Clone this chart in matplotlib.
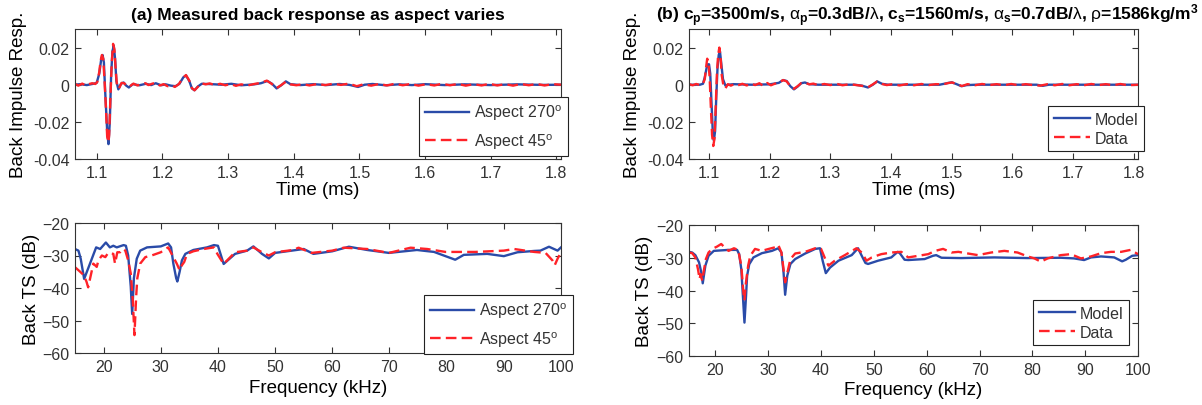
import matplotlib
matplotlib.use("Agg")
import matplotlib.pyplot as plt

plt.rcParams['font.family'] = ['Liberation Sans', 'DejaVu Sans']
plt.rcParams['mathtext.fontset'] = 'custom'
plt.rcParams['mathtext.rm'] = 'Liberation Sans'
plt.rcParams['mathtext.it'] = 'Liberation Sans'
plt.rcParams['mathtext.bf'] = 'Liberation Sans:bold'

BLUE = '#2A4BA8'
RED = '#FF2228'

# (a) impulse response, aspect 270 (blue) and 45 (red)
t_a270 = [1.067, 1.075, 1.085, 1.095, 1.100, 1.104, 1.107, 1.109, 1.111, 1.113, 1.116, 1.118, 1.120,
          1.122, 1.124, 1.126, 1.128, 1.130, 1.133, 1.137, 1.141, 1.145, 1.149, 1.155, 1.165, 1.175,
          1.183, 1.190, 1.198, 1.205, 1.213, 1.220, 1.226, 1.232, 1.236, 1.241, 1.245, 1.249, 1.254,
          1.260, 1.275, 1.290, 1.305, 1.320, 1.340, 1.350, 1.360, 1.367, 1.374, 1.381, 1.388, 1.395,
          1.410, 1.430, 1.450, 1.470, 1.485, 1.498, 1.508, 1.520, 1.540, 1.560, 1.580, 1.600, 1.630,
          1.660, 1.700, 1.740, 1.780, 1.807]
y_a270 = [0.0, 0.0003, -0.0002, 0.0005, 0.0010, 0.006, 0.014, 0.016, 0.012, -0.004, -0.025, -0.032, -0.020,
          0.005, 0.018, 0.021, 0.014, 0.002, -0.0025, 0.0005, 0.0012, -0.0005, -0.0015, 0.0003, -0.0003, 0.0005,
          -0.0002, 0.0008, -0.0003, 0.0002, -0.0005, -0.0008, 0.0005, 0.004, 0.005, 0.002, -0.002, -0.003, -0.001,
          0.0005, 0.0003, 0.0, 0.0005, -0.0003, 0.0002, 0.0008, 0.002, 0.0005, -0.002, -0.0003, 0.0018, 0.0003,
          -0.0002, 0.0003, -0.0002, 0.0004, -0.0001, -0.0012, 0.0, 0.0004, -0.0003, 0.0002, -0.0002, 0.0003, -0.0002,
          0.0002, -0.0002, 0.0002, -0.0001, 0.0]

t_a45 = [1.067, 1.072, 1.078, 1.083, 1.088, 1.093, 1.098, 1.101, 1.104, 1.106, 1.108, 1.110, 1.112,
         1.114, 1.116, 1.118, 1.119, 1.121, 1.123, 1.125, 1.127, 1.129, 1.131, 1.134, 1.138, 1.142,
         1.146, 1.150, 1.156, 1.162, 1.168, 1.174, 1.179, 1.185, 1.191, 1.196, 1.202, 1.208, 1.214,
         1.219, 1.225, 1.231, 1.236, 1.241, 1.245, 1.249, 1.254, 1.259, 1.266, 1.272, 1.280, 1.288,
         1.296, 1.304, 1.312, 1.320, 1.330, 1.340, 1.350, 1.359, 1.366, 1.374, 1.381, 1.388, 1.395,
         1.404, 1.414, 1.424, 1.436, 1.448, 1.460, 1.472, 1.484, 1.496, 1.506, 1.518, 1.530, 1.542,
         1.554, 1.566, 1.578, 1.590, 1.602, 1.614, 1.626, 1.638, 1.650, 1.662, 1.674, 1.686, 1.698,
         1.710, 1.722, 1.734, 1.746, 1.758, 1.770, 1.782, 1.794, 1.807]
y_a45 = [0.0005, -0.0005, 0.0006, -0.0004, 0.0003, 0.0008, 0.0004, 0.0015, 0.007, 0.013, 0.016, 0.014, 0.002,
         -0.012, -0.028, -0.031, -0.027, -0.006, 0.012, 0.022, 0.019, 0.008, -0.001, -0.002, 0.001, 0.0008,
         -0.0008, -0.001, 0.0006, -0.0004, 0.0003, 0.0008, -0.0002, 0.0006, 0.001, -0.0004, 0.0003, -0.0008, -0.0002,
         -0.0012, 0.0003, 0.0035, 0.0052, 0.0022, -0.0018, -0.003, -0.0012, 0.0008, 0.0002, 0.0007, -0.0002, 0.0005,
         -0.0003, 0.0004, -0.0006, 0.0002, -0.0004, 0.0004, 0.001, 0.0022, 0.0006, -0.0018, -0.0002, 0.0016, 0.0002,
         -0.0003, 0.0003, -0.0004, 0.0004, -0.0002, 0.0005, -0.0001, 0.0006, -0.0008, 0.0002, -0.0005, 0.0004, -0.0004,
         0.0005, -0.0003, 0.0004, -0.0005, 0.0003, -0.0004, 0.0005, -0.0003, 0.0004, -0.0005, 0.0003, -0.0004, 0.0005,
         -0.0004, 0.0003, -0.0005, 0.0004, -0.0003, 0.0004, -0.0004, 0.0003, 0.0]

# (b) impulse response, model (blue) and data (red)
t_model = [1.067, 1.085, 1.090, 1.093, 1.096, 1.098, 1.100, 1.102, 1.104, 1.106, 1.108, 1.110, 1.112,
           1.114, 1.116, 1.118, 1.120, 1.123, 1.127, 1.132, 1.140, 1.170, 1.200, 1.215, 1.222, 1.228,
           1.234, 1.240, 1.246, 1.252, 1.258, 1.265, 1.280, 1.340, 1.352, 1.362, 1.370, 1.377, 1.385,
           1.395, 1.480, 1.492, 1.500, 1.508, 1.516, 1.525, 1.540, 1.640, 1.650, 1.660, 1.807]
y_model = [0.0, 0.0, 0.0005, 0.004, 0.009, 0.011, 0.011, 0.006, -0.009, -0.024, -0.030, -0.025, -0.006,
           0.009, 0.016, 0.018, 0.012, 0.003, -0.0005, 0.0, 0.0003, 0.0, 0.0002, 0.001, 0.0025, 0.002,
           -0.0008, -0.0025, -0.001, 0.0008, 0.0012, 0.0003, 0.0, 0.0, -0.0005, -0.0015, 0.0, 0.0018, 0.0005,
           0.0, 0.0, 0.0008, 0.0013, 0.0003, -0.0008, -0.0002, 0.0, 0.0, -0.0006, 0.0, 0.0]

t_data = [1.067, 1.073, 1.079, 1.085, 1.090, 1.093, 1.095, 1.097, 1.099, 1.101, 1.103, 1.105, 1.107,
          1.109, 1.111, 1.113, 1.115, 1.117, 1.119, 1.121, 1.124, 1.127, 1.131, 1.136, 1.142, 1.148,
          1.155, 1.162, 1.170, 1.176, 1.183, 1.189, 1.196, 1.202, 1.209, 1.216, 1.222, 1.228, 1.234,
          1.240, 1.246, 1.252, 1.258, 1.265, 1.272, 1.280, 1.290, 1.300, 1.310, 1.320, 1.332, 1.343,
          1.352, 1.362, 1.370, 1.377, 1.385, 1.393, 1.403, 1.414, 1.426, 1.438, 1.450, 1.462, 1.474,
          1.486, 1.494, 1.501, 1.509, 1.517, 1.526, 1.538, 1.550, 1.562, 1.574, 1.586, 1.598, 1.610,
          1.622, 1.634, 1.646, 1.658, 1.670, 1.682, 1.694, 1.706, 1.718, 1.730, 1.742, 1.754, 1.766,
          1.778, 1.790, 1.807]
y_data = [0.0003, -0.0003, 0.0004, -0.0002, 0.0005, 0.003, 0.009, 0.014, 0.012, 0.004, -0.012, -0.027, -0.033,
          -0.029, -0.012, 0.006, 0.016, 0.020, 0.015, 0.005, -0.001, -0.002, 0.0003, -0.0005, 0.0004, -0.0003,
          0.0005, -0.0004, 0.0006, -0.0002, 0.0008, -0.0006, 0.0009, -0.0003, 0.0006, 0.0012, 0.0025, 0.0018, -0.0008,
          -0.0022, -0.0008, 0.0009, 0.0012, 0.0002, 0.0006, -0.0003, 0.0004, -0.0002, 0.0005, -0.0003, 0.0003, -0.0002,
          -0.0006, -0.0014, 0.0002, 0.0017, 0.0004, -0.0002, 0.0003, -0.0004, 0.0003, -0.0003, 0.0004, -0.0002, 0.0003,
          0.0002, 0.0009, 0.0012, 0.0002, -0.0007, 0.0003, -0.0003, 0.0004, -0.0002, 0.0003, -0.0003, 0.0004, -0.0003,
          0.0003, -0.0002, -0.0005, 0.0003, -0.0003, 0.0004, -0.0003, 0.0003, -0.0003, 0.0004, -0.0002, 0.0003, -0.0003,
          0.0004, -0.0003, 0.0]

# (a) back target strength, aspect 270 (blue) and 45 (red)
f_a270 = [15.0, 15.6, 16.0, 16.6, 17.6, 18.7, 19.4, 20.4, 21.1, 21.7, 22.3, 23.5, 23.9, 24.3, 24.75,
          25.0, 25.3, 25.8, 26.4, 27.6, 30.0, 31.3, 31.8, 32.2, 32.7, 32.9, 33.3, 33.7, 34.3, 35.7,
          38.1, 39.3, 40.0, 41.0, 43.0, 45.1, 46.2, 47.7, 48.9, 50.0, 55.0, 56.7, 60.0, 62.9, 66.1,
          69.9, 74.8, 77.8, 79.8, 81.5, 83.0, 87.1, 90.0, 92.4, 95.3, 96.4, 97.9, 99.4, 100.0]
ts_a270 = [-28.0, -28.5, -31.0, -37.2, -32.6, -27.5, -28.0, -26.0, -27.5, -27.0, -27.5, -26.8, -27.0, -30.0, -39.5,
           -48.0, -37.0, -31.0, -28.5, -27.5, -27.2, -26.3, -27.5, -32.5, -37.0, -38.0, -35.0, -31.5, -29.5, -28.3,
           -27.5, -26.8, -27.0, -32.6, -29.5, -28.5, -27.2, -29.5, -30.9, -29.2, -28.0, -29.5, -28.7, -27.3, -28.3,
           -29.2, -28.3, -28.9, -30.2, -31.3, -29.8, -29.5, -30.2, -29.0, -28.6, -28.5, -27.3, -28.5, -27.5]

f_a45 = [15.0, 15.9, 16.5, 17.0, 17.3, 17.9, 18.2, 18.8, 19.1, 19.7, 20.3, 20.8, 21.7, 22.0, 22.4,
         22.9, 23.4, 23.8, 24.3, 24.75, 25.1, 25.4, 25.7, 25.9, 26.4, 27.3, 28.4, 30.0, 31.3, 32.2,
         32.8, 33.3, 33.7, 34.1, 34.6, 35.7, 37.5, 39.3, 39.9, 41.0, 43.0, 45.1, 46.2, 47.7, 48.9,
         50.0, 53.2, 54.1, 56.4, 60.0, 62.0, 66.1, 69.9, 73.7, 76.6, 79.8, 85.0, 90.0, 91.8, 95.3,
         97.3, 98.5, 98.9, 99.4, 100.0]
ts_a45 = [-33.6, -35.0, -36.0, -38.0, -39.8, -35.0, -32.5, -33.5, -31.5, -30.0, -30.5, -29.2, -29.5, -32.5, -29.0,
          -29.0, -28.0, -28.5, -31.5, -35.5, -43.5, -54.5, -42.5, -37.0, -32.5, -30.5, -30.0, -29.0, -27.5, -30.5,
          -32.5, -34.5, -33.0, -32.0, -29.5, -28.7, -28.0, -27.5, -29.5, -32.6, -29.0, -28.5, -27.5, -29.0, -30.0,
          -29.0, -28.3, -27.6, -29.2, -28.5, -27.6, -28.0, -29.2, -27.6, -28.0, -28.9, -28.9, -28.5, -28.0, -28.9,
          -29.2, -31.5, -33.0, -31.0, -29.0]

# (b) back target strength, model (blue) and data (red)
f_model = [15.0, 15.6, 16.2, 16.9, 17.4, 17.6, 18.1, 18.7, 19.7, 22.5, 24.1, 24.5, 24.9, 25.2, 25.5,
           25.8, 26.0, 26.4, 27.2, 28.8, 30.7, 31.9, 32.5, 32.9, 33.2, 33.6, 34.2, 35.1, 37.0, 38.9,
           39.8, 40.3, 40.9, 41.7, 43.3, 45.8, 47.0, 47.7, 48.4, 48.9, 50.8, 53.3, 54.5, 54.9, 55.8,
           56.5, 59.6, 61.2, 61.8, 62.8, 66.5, 72.8, 79.1, 85.4, 87.9, 89.8, 91.1, 93.0, 95.5, 97.0,
           97.7, 98.9, 100.0]
ts_model = [-28.2, -28.4, -29.2, -31.4, -35.0, -37.8, -32.4, -29.4, -27.9, -27.6, -27.6, -28.9, -33.5, -41.6, -49.8,
            -41.6, -35.5, -32.0, -29.9, -28.6, -27.9, -27.1, -28.4, -34.5, -41.3, -35.5, -31.9, -30.4, -28.7, -27.3,
            -27.1, -30.9, -34.7, -33.0, -30.9, -29.2, -27.1, -29.4, -31.6, -31.9, -30.9, -29.9, -28.2, -28.6, -30.6,
            -30.7, -30.4, -29.4, -29.2, -30.0, -30.1, -29.9, -30.1, -30.0, -30.2, -30.7, -29.9, -29.6, -29.9, -31.1,
            -30.6, -29.4, -29.2]

f_data = [15.0, 15.6, 16.2, 16.7, 17.0, 17.2, 17.5, 17.8, 18.2, 18.7, 19.4, 20.3, 21.1, 21.9, 22.5,
          23.5, 24.3, 24.9, 25.3, 25.5, 25.7, 26.2, 26.6, 27.5, 28.8, 30.1, 31.3, 31.9, 32.5, 32.9,
          33.2, 33.7, 34.2, 35.1, 37.0, 38.9, 40.0, 40.8, 41.4, 42.6, 44.5, 46.7, 47.7, 48.6, 49.6,
          51.4, 53.3, 55.2, 56.5, 58.4, 60.3, 61.6, 63.1, 64.7, 66.0, 67.8, 69.7, 72.2, 74.7, 77.2,
          79.1, 80.4, 81.6, 82.9, 85.4, 87.3, 89.2, 91.1, 93.0, 94.9, 96.8, 98.6, 100.0]
ts_data = [-28.4, -28.6, -29.9, -33.5, -36.5, -35.0, -37.0, -34.0, -30.4, -28.4, -27.3, -26.6, -25.8, -27.1, -27.9,
           -27.1, -27.6, -32.4, -40.6, -43.0, -38.6, -32.4, -29.4, -27.3, -27.9, -27.3, -26.8, -26.1, -28.4, -33.5,
           -37.5, -34.0, -30.4, -28.7, -28.2, -27.1, -27.3, -30.4, -32.4, -30.9, -29.2, -27.1, -28.4, -30.9, -29.9,
           -28.9, -28.4, -28.2, -29.9, -29.4, -28.9, -27.9, -27.3, -28.4, -28.2, -28.7, -29.2, -28.4, -27.9, -28.4,
           -29.6, -30.2, -31.2, -30.2, -29.2, -28.9, -30.2, -29.6, -28.6, -28.2, -28.2, -27.6, -28.9]

t_ticks = [1.1, 1.2, 1.3, 1.4, 1.5, 1.6, 1.7, 1.8]
imp_ticks = [-0.04, -0.02, 0, 0.02]
imp_labels = ['-0.04', '-0.02', '0', '0.02']
f_ticks = [20, 30, 40, 50, 60, 70, 80, 90, 100]
ts_ticks = [-60, -50, -40, -30, -20]

title_a = '(a) Measured back response as aspect varies'
title_b = (r'(b) c$_\mathregular{p}$=3500m/s, $\alpha_\mathregular{p}$=0.3dB/$\lambda$, '
           r'c$_\mathregular{s}$=1560m/s, $\alpha_\mathregular{s}$=0.7dB/$\lambda$, '
           r'$\rho$=1586kg/m$^\mathregular{3}$')

fig = plt.figure(figsize=(12.02, 4.06), dpi=100)
W, H = 1202.0, 406.0


def box(l, t, r, b):
    return [l / W, 1 - b / H, (r - l) / W, (b - t) / H]


ax1 = fig.add_axes(box(75, 30, 561, 160))
ax2 = fig.add_axes(box(689, 30, 1138, 160))
ax3 = fig.add_axes(box(75, 224, 561, 354))
ax4 = fig.add_axes(box(689, 226, 1138, 357))

dash = (0, (4.5, 2.2))

ax1.plot(t_a270, y_a270, color=BLUE, lw=1.7, label='Aspect 270$^\\mathregular{o}$')
ax1.plot(t_a45, y_a45, color=RED, lw=1.7, ls=dash, label='Aspect 45$^\\mathregular{o}$')
ax2.plot(t_model, y_model, color=BLUE, lw=1.7, label='Model')
ax2.plot(t_data, y_data, color=RED, lw=1.7, ls=dash, label='Data')
ax3.plot(f_a270, ts_a270, color=BLUE, lw=1.7, label='Aspect 270$^\\mathregular{o}$')
ax3.plot(f_a45, ts_a45, color=RED, lw=1.7, ls=dash, label='Aspect 45$^\\mathregular{o}$')
ax4.plot(f_model, ts_model, color=BLUE, lw=1.7, label='Model')
ax4.plot(f_data, ts_data, color=RED, lw=1.7, ls=dash, label='Data')

for ax in (ax1, ax2):
    ax.set_xlim(1.067, 1.807)
    ax.set_ylim(-0.04, 0.03)
    ax.set_xticks(t_ticks)
    ax.set_yticks(imp_ticks)
    ax.set_yticklabels(imp_labels)
    ax.set_xlabel('Time (ms)', fontsize=13.5)
    ax.set_ylabel('Back Impulse Resp.', fontsize=13.5)

for ax in (ax3, ax4):
    ax.set_xlim(15, 100)
    ax.set_ylim(-60, -20)
    ax.set_xticks(f_ticks)
    ax.set_yticks(ts_ticks)
    ax.set_xlabel('Frequency (kHz)', fontsize=13.5)
    ax.set_ylabel('Back TS (dB)', fontsize=13.5)

for ax in (ax1, ax2, ax3, ax4):
    ax.tick_params(direction='in', top=True, right=True, length=4, width=0.8,
                   labelsize=11.5, labelcolor='#333333', color='#333333', pad=4)
    for s in ax.spines.values():
        s.set_color('#333333')
        s.set_linewidth(0.8)
    ax.xaxis.label.set_va('center')
    ax.yaxis.label.set_va('center')

ax1.yaxis.set_label_coords(-0.117, 0.5)
ax2.yaxis.set_label_coords(-0.125, 0.5)
ax3.yaxis.set_label_coords(-0.0905, 0.5)
ax4.yaxis.set_label_coords(-0.098, 0.5)
ax1.xaxis.set_label_coords(0.5, -0.235)
ax2.xaxis.set_label_coords(0.5, -0.235)
ax3.xaxis.set_label_coords(0.5, -0.265)
ax4.xaxis.set_label_coords(0.5, -0.255)

ax1.set_title(title_a, fontsize=12.5, fontweight='bold', pad=7)
ax2.set_title(title_b, fontsize=12.5, fontweight='bold', pad=7)
ax2.title.set_x(0.53)

legend_spots = [(ax1, 419, 98, 2.8, 0.55), (ax2, 1048, 107, 2.3, 0.25),
                (ax3, 424, 296, 2.8, 0.55), (ax4, 1033, 301, 2.3, 0.25)]
for ax, lx, ly, hl, ls in legend_spots:
    leg = ax.legend(loc='upper left', bbox_to_anchor=(lx / W, 1 - ly / H),
                    bbox_transform=fig.transFigure, borderaxespad=0, fontsize=11.5,
                    fancybox=False, framealpha=1, edgecolor='#222222', handlelength=hl,
                    handletextpad=0.3, labelspacing=ls, borderpad=0.35)
    leg.get_frame().set_linewidth(0.8)
    for txt in leg.get_texts():
        txt.set_color('#333333')

fig.savefig('out.png', dpi=100)
